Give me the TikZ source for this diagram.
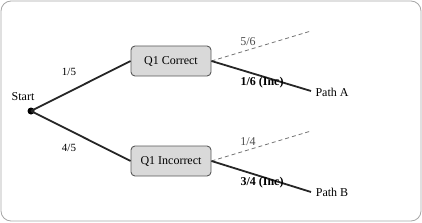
\documentclass[tikz,border=0pt]{standalone}
\usepackage{fontspec}
\setmainfont{Liberation Serif}
\begin{document}
\begin{tikzpicture}[x=1pt,y=-1pt,
  qbox/.style={draw=black!65,fill=black!15,rounded corners=4pt,line width=0.9pt,minimum width=80pt,minimum height=30pt,inner sep=0pt,font=\fontsize{12}{14}\selectfont},
  branch/.style={draw=black!85,line width=1.8pt},
  alt/.style={draw=black!55,line width=0.8pt,dash pattern=on 4pt off 3pt},
  lbl/.style={inner sep=0pt,font=\fontsize{12}{14}\selectfont},
  plbl/.style={inner sep=0pt,font=\fontsize{11}{13}\selectfont}]
\useasboundingbox (0,0) rectangle (422,222);
\draw[black!35,line width=0.8pt,rounded corners=10pt] (1,1) rectangle (421,221);
\node[circle,fill=black,inner sep=0pt,minimum size=7pt] (start) at (31,111) {};
\node[lbl] (startlbl) at (23,97) {Start};
\node[qbox] (qc) at (171,61) {Q1 Correct};
\node[qbox] (qi) at (171,161) {Q1 Incorrect};
\coordinate (ca) at (311,31);
\coordinate (cb) at (311,91);
\coordinate (ia) at (311,131);
\coordinate (ib) at (311,192);
\draw[branch] (start.center) -- (qc.west);
\draw[branch] (start.center) -- (qi.west);
\draw[alt] (qc.east) -- (ca);
\draw[branch] (qc.east) -- (cb);
\draw[alt] (qi.east) -- (ia);
\draw[branch] (qi.east) -- (ib);
\node[plbl] (l15) at (69,72) {1/5};
\node[plbl] (l45) at (69,148) {4/5};
\node[lbl,text=black!70] (l56) at (248,42) {5/6};
\node[lbl,font=\fontsize{12}{14}\selectfont\bfseries] (l16) at (262,82.5) {1/6 (Inc)};
\node[lbl,text=black!70] (l14) at (248,142) {1/4};
\node[lbl,font=\fontsize{12}{14}\selectfont\bfseries] (l34) at (262,183) {3/4 (Inc)};
\node[lbl] (pa) at (332,92) {Path A};
\node[lbl] (pb) at (332,192) {Path B};
\end{tikzpicture}
\end{document}
